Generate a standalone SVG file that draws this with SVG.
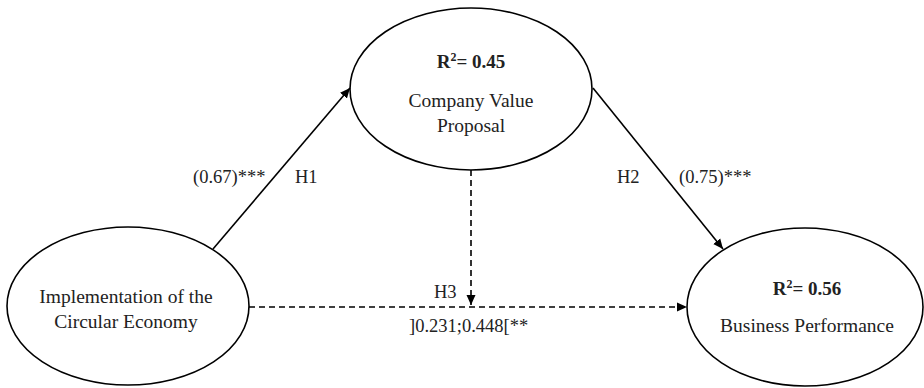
<svg xmlns="http://www.w3.org/2000/svg" width="924" height="388" viewBox="0 0 924 388">
<style>
.node{fill:#fff;stroke:#000;stroke-width:1.6}
.t{font-family:"Liberation Serif","Times New Roman",serif;font-size:19.5px;fill:#222;text-anchor:middle}
.b{font-weight:bold;font-size:19px}
.lbl{font-family:"Liberation Serif","Times New Roman",serif;font-size:18.5px;fill:#222}
.c{stroke:#000;stroke-width:1.6;fill:none}
.d{stroke-dasharray:6 4}
</style>
<defs>
<marker id="ah" viewBox="0 0 10 10" refX="10" refY="5" markerWidth="10" markerHeight="10" markerUnits="userSpaceOnUse" orient="auto">
<path d="M0,0.5 L10,5 L0,9.5 Z" fill="#000"/>
</marker>
</defs>
<rect width="924" height="388" fill="#fff"/>
<g id="node-cvp">
<ellipse class="node" cx="471" cy="89" rx="121" ry="81"/>
<text class="t b" x="471" y="68">R<tspan font-size="12" dy="-7">2</tspan><tspan dy="7">= 0.45</tspan></text>
<text class="t" x="471" y="107">Company Value</text>
<text class="t" x="471" y="132">Proposal</text>
</g>
<g id="node-ice">
<ellipse class="node" cx="128" cy="306" rx="121" ry="79"/>
<text class="t" x="126" y="303">Implementation of the</text>
<text class="t" x="126" y="328">Circular Economy</text>
</g>
<g id="node-bp">
<ellipse class="node" cx="805" cy="307" rx="118" ry="79"/>
<text class="t b" x="807" y="295">R<tspan font-size="12" dy="-7">2</tspan><tspan dy="7">= 0.56</tspan></text>
<text class="t" x="807" y="332">Business Performance</text>
</g>
<g id="connectors">
<line class="c" x1="213" y1="249" x2="350" y2="88" marker-end="url(#ah)"/>
<line class="c" x1="593" y1="88" x2="723" y2="249" marker-end="url(#ah)"/>
<line class="c d" x1="471" y1="170" x2="471" y2="305" marker-end="url(#ah)"/>
<line class="c d" x1="249" y1="307" x2="687" y2="307" marker-end="url(#ah)"/>
</g>
<g id="labels">
<text class="lbl" x="193" y="183">(0.67)***</text>
<text class="lbl" x="295" y="183">H1</text>
<text class="lbl" x="617" y="183">H2</text>
<text class="lbl" x="679" y="183">(0.75)***</text>
<text class="lbl" x="434" y="298">H3</text>
<text class="lbl" x="409" y="332">]0.231;0.448[**</text>
</g>
</svg>
